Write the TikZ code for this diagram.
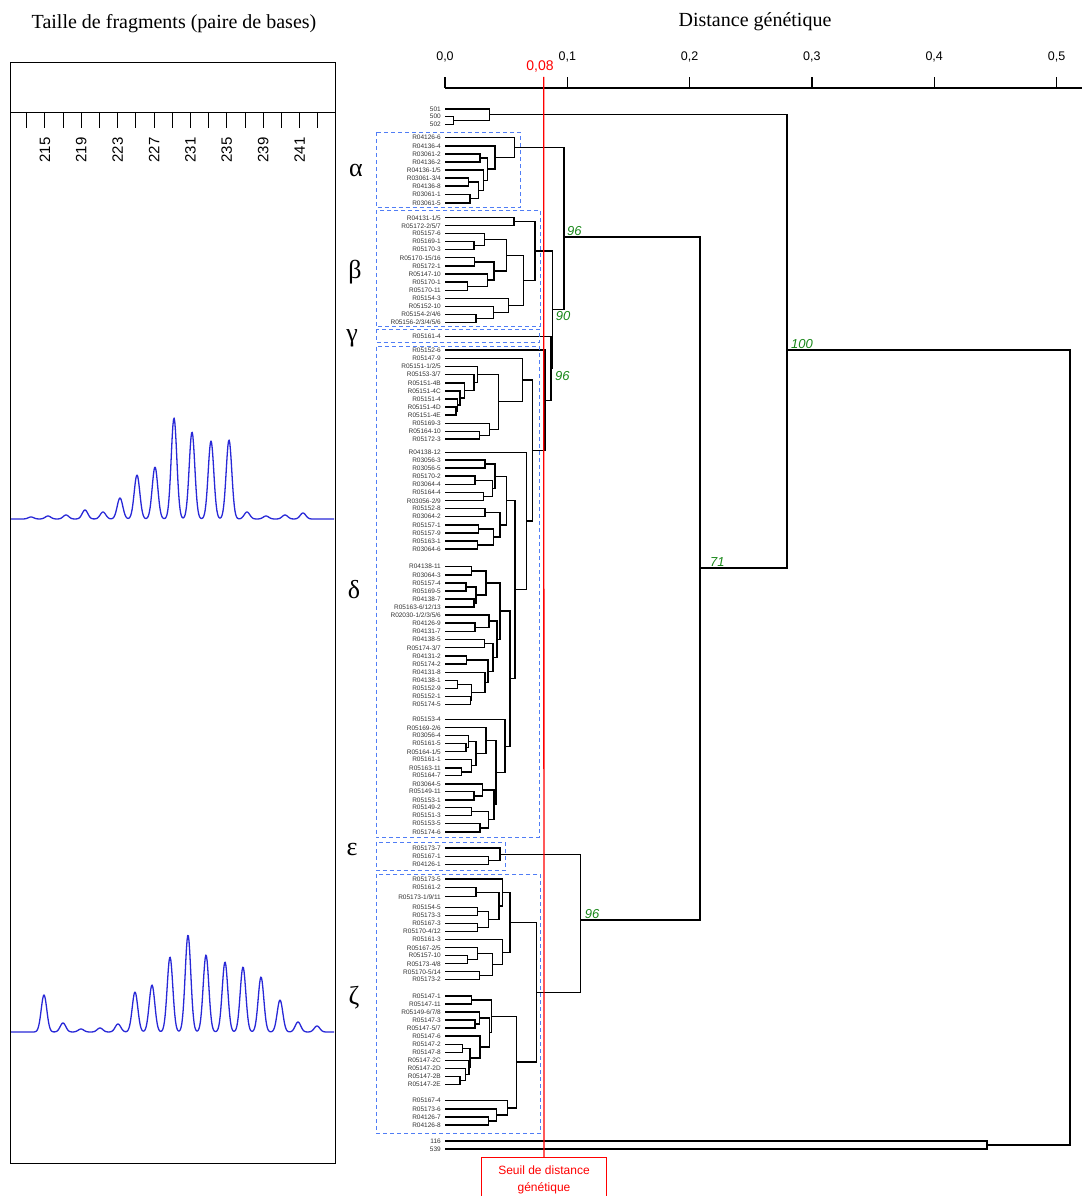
\documentclass[tikz,border=0pt]{standalone}
\usepackage{fontspec}
\setmainfont{Liberation Serif}
\setsansfont{Liberation Sans}
\usetikzlibrary{calc}
\definecolor{boxblue}{RGB}{80,125,245}
\definecolor{traceblue}{RGB}{40,40,215}
\definecolor{bootgreen}{RGB}{25,135,25}
\definecolor{leafgray}{RGB}{50,50,50}
\tikzset{
	leaf/.style={anchor=east,inner sep=0pt,text=leafgray,font=\sffamily\fontsize{6.5}{7}\selectfont},
	branch/.style={line width=1.3pt},
	grp/.style={draw=boxblue,line width=0.9pt,dash pattern=on 4pt off 3pt},
	boot/.style={text=bootgreen,inner sep=1pt,font=\sffamily\itshape\fontsize{13}{14}\selectfont},
	greek/.style={inner sep=0pt,font=\fontsize{26}{28}\selectfont},
	axlab/.style={inner sep=0pt,font=\sffamily\fontsize{12.5}{13}\selectfont},
	fraglab/.style={inner sep=0pt,rotate=90,font=\sffamily\fontsize{15}{16}\selectfont},
	ttl/.style={inner sep=0pt,font=\fontsize{20}{22}\selectfont},
	trace/.style={draw=traceblue,line width=1.3pt,line join=round},
}
\newcommand{\jn}[4]{%
	\path let \p1=(#3), \p2=(#4) in coordinate (#1) at (#2pt,{(\y1+\y2)/2});
	\draw[branch] (#3) -| (#1) (#4) -| (#1);}
\newcommand{\jnat}[5]{%
	\coordinate (#1) at (#2,#3);
	\draw[branch] (#4) -| (#1) (#5) -| (#1);}
\begin{document}
\begin{tikzpicture}[x=1pt,y=-1pt,
	declare function={pk(\u,\c,\h)=\h*exp(-0.5*min(((\u-\c)/2.8)*((\u-\c)/2.8),50));}]
	\useasboundingbox (0,0) rectangle (1082,1196);

	\node[ttl] (ftitle) at (174,24) {Taille de fragments (paire de bases)};
	\node[ttl] (dtitle) at (755,22) {Distance génétique};

	\draw[line width=0.9pt] (10,62) rectangle (335,1163);
	\draw[line width=0.9pt] (10,112) -- (335,112);
	\foreach \i in {0,...,16}
		\draw[line width=0.9pt] (26.7+18.19*\i,112) -- ++(0,16);
	\foreach \v [count=\k] in {215,219,223,227,231,235,239,241}
		\node[fraglab] (frag\k) at ({26.7+18.19*(2*\k-1)},150) {\v};

	\draw[trace] plot[domain=11:334,samples=500] (\x,{519-pk(\x,31,2)-pk(\x,48,3)-pk(\x,66,4)-pk(\x,85,9)-pk(\x,103,7)-pk(\x,120,21)-pk(\x,137,44)-pk(\x,155,52)-pk(\x,174,101)-pk(\x,192,87)-pk(\x,211,78)-pk(\x,229,79)-pk(\x,247,7)-pk(\x,266,3)-pk(\x,285,4)-pk(\x,303,6)});
	\draw[trace] plot[domain=11:334,samples=500] (\x,{1032-pk(\x,44,37)-pk(\x,63,9)-pk(\x,81,3)-pk(\x,100,4)-pk(\x,118,8)-pk(\x,135,40)-pk(\x,152,47)-pk(\x,170,75)-pk(\x,188,97)-pk(\x,206,77)-pk(\x,225,70)-pk(\x,243,65)-pk(\x,261,55)-pk(\x,280,32)-pk(\x,298,10)-pk(\x,317,6)});

	\draw[line width=1.2pt] (445,88) -- (1082,88);
	\foreach \v in {0,...,5}
		\draw[line width=1.2pt] (445+122.3*\v,88) -- ++(0,-11) node[axlab] (ax\v) at (445+122.3*\v,57) {0,\v};

	\foreach \y/\t [count=\i] in {109/501,116.7/500,124.3/502,
		137.7/R04126-6,146/R04136-4,154/R03061-2,162/R04136-2,170/{R04136-1/5},178/{R03061-3/4},186/R04136-8,194.5/R03061-1,203/R03061-5,
		217.7/{R04131-1/5},225.7/{R05172-2/5/7},233.7/R05157-6,241.7/R05169-1,249.7/R05170-3,257.7/{R05170-15/16},266/R05172-1,274/R05147-10,282/R05170-1,290.3/R05170-11,298.3/R05154-3,306.3/R05152-10,314.3/{R05154-2/4/6},322.3/{R05156-2/3/4/5/6},
		336.7/R05161-4,
		350/R05152-6,358.3/R05147-9,366.3/{R05151-1/2/5},374.3/{R05153-3/7},383/R05151-4B,391/R05151-4C,399/R05151-4,407/R05151-4D,415/R05151-4E,423.3/R05169-3,431.3/R05164-10,439/R05172-3,
		452.3/R04138-12,460/R03056-3,468/R03056-5,476/R05170-2,484.7/R03064-4,492.7/R05164-4,500.7/{R03056-2/9},508.7/R05152-8,516.7/R03064-2,525/R05157-1,533/R05157-9,541/R05163-1,549/R03064-6,
		566.7/R04138-11,575/R03064-3,583/R05157-4,591/R05169-5,599/R04138-7,607/{R05163-6/12/13},615/{R02030-1/2/3/5/6},623/R04126-9,631.3/R04131-7,639.5/R04138-5,647.7/{R05174-3/7},656/R04131-2,664/R05174-2,672.3/R04131-8,680.7/R04138-1,688.7/R05152-9,696.7/R05152-1,704.7/R05174-5,
		719.7/R05153-4,727.7/{R05169-2/6},735.7/R03056-4,743.7/R05161-5,751.7/{R05164-1/5},759.7/R05161-1,768/R05163-11,775.7/R05164-7,784/R03064-5,791.7/R05149-11,800/R05153-1,807.5/R05149-2,815.7/R05151-3,823.7/R05153-5,832/R05174-6,
		848/R05173-7,856.3/R05167-1,864.7/R04126-1,
		879/R05173-5,887.7/R05161-2,896.7/{R05173-1/9/11},907.3/R05154-5,915.7/R05173-3,923.5/R05167-3,931.5/{R05170-4/12},939.7/R05161-3,947.7/{R05167-2/5},955.7/R05157-10,963.7/{R05173-4/8},971.7/{R05170-5/14},979.7/R05173-2,
		996/R05147-1,1004/R05147-11,1012/{R05149-6/7/8},1020/R05147-3,1028/{R05147-5/7},1036/R05147-6,1044.5/R05147-2,1052.5/R05147-8,1060.7/R05147-2C,1068.5/R05147-2D,1076.5/R05147-2B,1084.5/R05147-2E,
		1100.7/R05167-4,1109/R05173-6,1117/R04126-7,1125/R04126-8,
		1141/116,1149/539}{
		\node[leaf] (t\i) at (441,\y) {\t};
		\coordinate (l\i) at (445,\y);
	}

	\jn{T1}{453.3}{l2}{l3}
	\jn{T2}{489.3}{l1}{T1}

	\jn{a1}{480}{l6}{l7}
	\jn{a2}{468.3}{l9}{l10}
	\jn{a3}{470}{l11}{l12}
	\jn{a4}{478.3}{a2}{a3}
	\jn{a5}{483.3}{l8}{a4}
	\jn{a6}{487.7}{a1}{a5}
	\jn{a7}{495}{l5}{a6}
	\jn{A}{514.7}{l4}{a7}

	\jn{b1}{514}{l13}{l14}
	\jn{b2}{474}{l16}{l17}
	\jn{b3}{484.3}{l15}{b2}
	\jn{b4}{474.3}{l18}{l19}
	\jn{b5}{467.3}{l21}{l22}
	\jn{b6}{487.7}{l20}{b5}
	\jn{b7}{494}{b4}{b6}
	\jn{b8}{506.7}{b3}{b7}
	\jn{b9}{476}{l25}{l26}
	\jn{b10}{493.3}{l24}{b9}
	\jn{b11}{508.3}{l23}{b10}
	\jn{b12}{523.3}{b8}{b11}
	\jn{B}{535}{b1}{b12}

	\jn{d1}{456}{l35}{l36}
	\jn{d2}{457.3}{l34}{d1}
	\jn{d3}{460}{l33}{d2}
	\jn{d4}{464.3}{l32}{d3}
	\jn{d5}{474}{l31}{d4}
	\jn{d6}{477.3}{l30}{d5}
	\jn{d7}{479.3}{l38}{l39}
	\jn{d8}{489.3}{l37}{d7}
	\jn{d9}{498.3}{d6}{d8}
	\jn{d10}{522.7}{l29}{d9}

	\jn{h1}{485}{l41}{l42}
	\jn{h2}{475}{l43}{l44}
	\jn{h3}{483.3}{l45}{l46}
	\jn{h4}{492.7}{h2}{h3}
	\jn{h5}{495}{h1}{h4}
	\jn{h7}{485}{l47}{l48}
	\jn{h8}{478.3}{l49}{l50}
	\jn{h9}{477.3}{l51}{l52}
	\jn{h10}{493.3}{h8}{h9}
	\jn{h11}{500}{h7}{h10}
	\jn{h12}{506.7}{h5}{h11}

	\jn{j1}{471.7}{l53}{l54}
	\jn{j2}{466}{l55}{l56}
	\jn{j3}{474}{l57}{l58}
	\jn{j4}{476}{j2}{j3}
	\jn{j5}{486}{j1}{j4}
	\jn{j6}{475}{l60}{l61}
	\jn{j7}{489}{l59}{j6}
	\jn{j8}{484.3}{l62}{l63}
	\jn{j9}{466.7}{l64}{l65}
	\jn{j10}{457.3}{l67}{l68}
	\jn{j11}{470.7}{l69}{l70}
	\jn{j12}{471.7}{j10}{j11}
	\jn{j13}{485}{l66}{j12}
	\jn{jA}{488}{j9}{j13}
	\jn{jB}{493}{j8}{jA}
	\jn{jC}{497}{j7}{jB}
	\jn{jD}{500}{j5}{jC}

	\jn{k0}{466}{l74}{l75}
	\jn{k1}{468.3}{l73}{k0}
	\jn{k2}{461.7}{l77}{l78}
	\jn{k3}{471.7}{l76}{k2}
	\jn{k4}{476}{k1}{k3}
	\jn{k5}{486}{l72}{k4}
	\jn{m1}{474}{l80}{l81}
	\jn{m2}{482.7}{l79}{m1}
	\jn{m3}{471.7}{l82}{l83}
	\jn{m4}{480}{l84}{l85}
	\jn{m5}{488.3}{m3}{m4}
	\jn{m6}{494}{m2}{m5}
	\jn{k6}{496}{k5}{m6}
	\jn{K}{505}{l71}{k6}

	\jn{I}{510}{jD}{K}
	\jn{G}{515}{h12}{I}
	\jn{F}{526.7}{l40}{G}
	\jn{E}{532.3}{d10}{F}
	\jn{D}{545}{l28}{E}
	\jn{GD}{551}{l27}{D}
	\jn{N90}{552.7}{B}{GD}
	\jnat{N96a}{564}{237}{A}{N90}

	\jn{e1}{488.3}{l87}{l88}
	\jn{Eps}{500}{l86}{e1}

	\jn{z1}{476}{l90}{l91}
	\jn{z2}{477.3}{l92}{l93}
	\jn{z3}{477.3}{l94}{l95}
	\jn{z4}{488.3}{z2}{z3}
	\jn{z5}{467.7}{l98}{l99}
	\jn{z6}{477.7}{l97}{z5}
	\jn{z7}{479.3}{l100}{l101}
	\jn{z8}{492.7}{z6}{z7}
	\jn{z9}{502.7}{l96}{z8}
	\jn{z10}{499}{z1}{z4}
	\jn{z11}{502.7}{l89}{z10}
	\jn{Zu}{510}{z11}{z9}
	\jn{y1}{471.7}{l102}{l103}
	\jn{y2}{475}{l105}{l106}
	\jn{y3}{479.3}{l104}{y2}
	\jn{w1}{462.7}{l108}{l109}
	\jn{w2}{460}{l112}{l113}
	\jn{w3}{465.7}{l111}{w2}
	\jn{w4}{469}{l110}{w3}
	\jn{w5}{470}{w1}{w4}
	\jn{w6}{480}{l107}{w5}
	\jn{y4}{489.3}{y3}{w6}
	\jn{Y}{491.7}{y1}{y4}
	\jn{v1}{488.3}{l116}{l117}
	\jn{v2}{496.7}{l115}{v1}
	\jn{V}{507.7}{l114}{v2}
	\jn{Zl}{516.7}{Y}{V}
	\jn{Z}{536.7}{Zu}{Zl}
	\jnat{N96b}{580.7}{920}{Eps}{Z}

	\jnat{N71}{700}{568}{N96a}{N96b}
	\jnat{Top}{787}{350}{T2}{N71}
	\jn{Out}{987}{l118}{l119}
	\jn{Root}{1070}{Top}{Out}

	\node[boot,anchor=south west] (bs96a) at ($(N96a)+(2,0)$) {96};
	\node[boot,anchor=north west] (bs90) at ($(N90)+(2,0)$) {90};
	\node[boot,anchor=north west] (bs96g) at ($(GD)+(3,2)$) {96};
	\node[boot,anchor=south west] (bs100) at ($(Top)+(3,0)$) {100};
	\node[boot,anchor=south west] (bs71) at ($(N71)+(9,0)$) {71};
	\node[boot,anchor=south west] (bs96b) at ($(N96b)+(3,0)$) {96};

	\draw[grp] (376,132.3) rectangle (520,207.7);
	\draw[grp] (376,210) rectangle (540,326.7);
	\draw[grp] (376,329) rectangle (539.3,342.3);
	\draw[grp] (376,346.7) rectangle (539.3,837.3);
	\draw[grp] (376,842.3) rectangle (505,870.7);
	\draw[grp] (376,874) rectangle (540.7,1133);

	\node[greek] (galpha) at (356,170) {α};
	\node[greek] (gbeta) at (355,272) {β};
	\node[greek] (ggamma) at (352,338) {γ};
	\node[greek] (gdelta) at (354,590) {δ};
	\node[greek] (geps) at (352,849) {ε};
	\node[greek] (gzeta) at (354,998) {ζ};

	\node[axlab,text=red,font=\sffamily\fontsize{14}{15}\selectfont] (thrlab) at (540,67) {0,08};
	\coordinate (thr) at (543.7,77);
	\node[draw=red,line width=0.8pt,text=red,align=center,minimum width=125pt,minimum height=45pt,inner sep=2pt,font=\sffamily\fontsize{12}{16.3}\selectfont] (seuil) at (544,1180) {Seuil de distance\\génétique};
	\draw[red,line width=1.3pt] (thr) -- (seuil.north);
\end{tikzpicture}
\end{document}
